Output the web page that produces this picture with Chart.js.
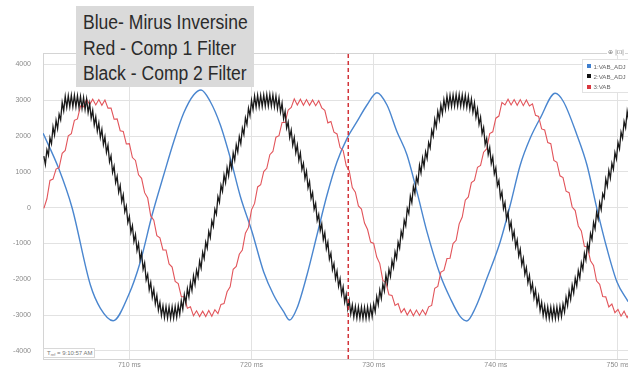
<!DOCTYPE html>
<html><head><meta charset="utf-8">
<script src="https://cdn.jsdelivr.net/npm/chart.js@4.4.1/dist/chart.umd.min.js"></script>
<style>
html,body{margin:0;padding:0;background:#fff;}
#wrap{position:relative;width:628px;height:369px;overflow:hidden;background:#fff;}
#c{position:absolute;left:0;top:0;}
#note{position:absolute;left:76px;top:6px;width:178px;height:81px;background:#dadada;}
#note div{position:absolute;left:6.7px;white-space:nowrap;font-family:'Liberation Sans Narrow','Arial Narrow','Liberation Sans',Arial,sans-serif;font-size:20px;line-height:20px;color:#2b2b2b;transform-origin:0 0;}
#legend{position:absolute;left:582px;top:59px;width:52px;height:34px;background:#fff;border:1px solid #e2e2e2;box-sizing:border-box;font-family:'Liberation Sans',Arial,sans-serif;font-size:6.2px;color:#666;}
#legend .row{position:absolute;left:4px;height:8px;line-height:8px;white-space:nowrap;}
#legend .sw{display:inline-block;width:4px;height:4px;margin-right:2.5px;vertical-align:0.5px;}
#tref{position:absolute;left:43px;top:348px;width:52px;height:10px;background:#fff;border:1px solid #d8d8d8;box-sizing:border-box;font-family:'Liberation Sans',Arial,sans-serif;font-size:6px;line-height:8px;color:#777;padding-left:3px;white-space:nowrap;}
#tref sub{font-size:4px;vertical-align:-1px;}
#icons{position:absolute;left:607px;top:48px;font-family:'DejaVu Sans',sans-serif;font-size:6px;color:#777;background:#fff;padding:0 1px;}
</style>
</head><body>
<div id="wrap">
<canvas id="c" width="628" height="369"></canvas>
<div id="note">
<div style="top:6.1px">Blue- Mirus Inversine</div>
<div style="top:32.1px">Red - Comp 1 Filter</div>
<div style="top:57.1px">Black - Comp 2 Filter</div>
</div>
<div id="icons">⊕ |⊡|</div>
<div id="legend"></div>
<div id="tref">T<sub>ref</sub> = 9:10:57 AM</div>
</div>
<script>
// ---- data ----
const seriesLabels = ['1:VAB_ADJ', '2:VAB_ADJ', '3:VAB'];
const yTickValues = [-4000, -3000, -2000, -1000, 0, 1000, 2000, 3000, 4000];
const xTickValues = [710, 720, 730, 740, 750];
const cursorTime = [727.92];

// Blue (1:VAB_ADJ) — time in ms, value
const blueTimes = [702.94,704.21,705.31,706.81,707.63,708.67,709.94,710.9,711.86,712.81,713.63,714.44,715.26,715.87,716.63,717.45,718.27,719.08,720.04,720.99,721.81,722.63,723.12,723.72,724.54,725.36,726.18,727.0,727.82,728.63,729.45,730.27,731.09,731.91,732.73,733.54,734.36,735.45,736.27,737.09,737.63,738.31,739.27,740.36,741.18,742.0,742.81,743.63,744.86,745.54,746.64,747.46,748.27,749.09,749.91,750.83];
const blueValues = [2078,1100,0,-2160,-2810,-3156,-2438,-1508,-204,913,1843,2636,3148,3287,2960,2310,1380,320,-670,-1788,-2438,-2905,-3137,-2810,-1880,-762,355,1285,1938,2402,2868,3212,2868,2123,1472,447,-670,-1880,-2530,-3044,-3164,-2810,-1972,-950,75,1193,1938,2497,3195,2960,2030,1193,-17,-1134,-2067,-2625];

// sample grid for black / red: every 0.25 ms from 703 ms
const sampleStart = 703, sampleStep = 0.25;

// Black (2:VAB_ADJ): ripple tips at the grid times, ripple valleys half a step later
const blackUpper = [
1440,1620,1950,2260,2440,2610,2940,3110,3130,3140,3140,3130,3110,3080,3040,2910,
2720,2540,2370,2190,1980,1750,1450,1160,880,620,360,50,-240,-500,-750,-1000,
-1260,-1540,-1860,-2090,-2280,-2450,-2640,-2740,-2760,-2770,-2770,-2760,-2720,-2600,-2430,-2260,
-2090,-1900,-1740,-1490,-1240,-960,-660,-370,-40,310,630,920,1120,1300,1530,1760,
1990,2220,2510,2780,3000,3120,3140,3140,3150,3160,3160,3150,3120,3060,2920,2690,
2390,2170,1960,1750,1530,1240,1020,730,420,120,-190,-450,-700,-960,-1270,-1560,
-1770,-1990,-2210,-2420,-2590,-2710,-2760,-2770,-2770,-2780,-2770,-2760,-2690,-2480,-2300,-2130,
-1880,-1720,-1480,-1230,-960,-660,-350,-20,330,590,850,1190,1390,1560,1820,2160,
2470,2690,2870,3020,3120,3140,3150,3160,3160,3150,3140,3110,3040,2930,2760,2530,
2240,1930,1680,1420,1110,760,440,140,-130,-400,-660,-900,-1160,-1410,-1670,-1890,
-2110,-2290,-2470,-2640,-2740,-2770,-2780,-2780,-2770,-2750,-2690,-2500,-2330,-2160,-1970,-1760,
-1540,-1270,-1020,-720,-410,-130,140,390,800,1040,1240,1540,1820,2110,2410,2690,
2800];
const blackLower = [
1210,1465,1785,2030,2205,2455,2705,2800,2815,2820,2815,2800,2775,2740,2655,2495,
2310,2135,1960,1765,1545,1280,985,700,430,170,-115,-415,-690,-945,-1195,-1450,
-1720,-2020,-2295,-2505,-2685,-2865,-3010,-3070,-3085,-3090,-3085,-3060,-2980,-2835,-2665,-2495,
-2315,-2140,-1935,-1685,-1420,-1130,-835,-525,-185,150,455,700,890,1095,1325,1555,
1785,2045,2325,2570,2740,2810,2820,2825,2835,2840,2835,2815,2770,2670,2485,2220,
1960,1745,1535,1320,1065,810,555,255,-50,-355,-640,-895,-1150,-1435,-1735,-1985,
-2200,-2420,-2635,-2825,-2970,-3055,-3085,-3090,-3095,-3095,-3085,-3045,-2905,-2710,-2535,-2325,
-2120,-1920,-1675,-1415,-1130,-825,-505,-165,140,400,700,970,1155,1370,1670,1995,
2260,2460,2625,2750,2810,2825,2835,2840,2835,2825,2805,2755,2665,2525,2325,2065,
1765,1485,1230,945,615,280,-30,-315,-585,-850,-1100,-1350,-1605,-1860,-2100,-2320,
-2520,-2700,-2875,-3010,-3075,-3095,-3100,-3095,-3080,-3040,-2915,-2735,-2565,-2385,-2185,-1970,
-1725,-1465,-1190,-885,-590,-315,-55,275,600,820,1070,1360,1645,1940,2230,2425];

// Red (3:VAB), one value per grid time
const redValues = [
-20,250,760,800,1080,1120,1520,1600,
2010,2070,2440,2480,2840,2820,3030,2880,
3030,2870,3020,2860,3010,2780,2780,2470,
2480,2150,2130,1780,1790,1400,1320,920,
820,420,270,-230,-350,-780,-840,-1180,
-1180,-1570,-1660,-2060,-2120,-2480,-2490,-2810,
-2770,-3020,-2880,-3040,-2890,-3040,-2870,-3030,
-2850,-2960,-2700,-2680,-2350,-2210,-1720,-1640,
-1300,-1180,-710,-550,-60,120,580,640,
1010,1100,1480,1570,1970,2010,2380,2380,
2730,2800,3040,2870,3030,2860,3020,2860,
3010,2850,2990,2790,2720,2370,2410,2110,
2060,1680,1600,1180,1030,560,435,50,
-40,-430,-610,-960,-1000,-1380,-1560,-2030,
-2090,-2430,-2450,-2730,-2680,-2930,-2820,-3000,
-2850,-3020,-2860,-3010,-2850,-2990,-2770,-2730,
-2250,-2200,-1800,-1750,-1420,-1410,-1000,-910,
-450,-260,210,300,700,760,1130,1180,
1550,1640,2070,2120,2500,2560,2940,2870,
3030,2870,3020,2860,3020,2850,3010,2840,
2900,2580,2550,2200,2170,1820,1790,1320,
1270,890,840,460,420,20,-80,-510,
-650,-1080,-1100,-1480,-1610,-2050,-2140,-2480,
-2490,-2770,-2690,-2930,-2840,-3030,-2890,-3070,
-2920];

// ---- build ----
const Y_MIN = -4226, Y_MAX = 4321, X_MIN = 702.93, X_MAX = 750.82;
const redPts = redValues.map((v, i) => ({ x: sampleStart + i * sampleStep, y: v }));
const blackPts = [];
blackUpper.forEach((v, i) => {
  blackPts.push({ x: sampleStart + i * sampleStep, y: v });
  if (i < blackLower.length) blackPts.push({ x: sampleStart + (i + 0.5) * sampleStep, y: blackLower[i] });
});
const bluePts = blueTimes.map((t, i) => ({ x: t, y: blueValues[i] }));
const cursorPts = [{ x: cursorTime[0], y: Y_MIN }, { x: cursorTime[0], y: Y_MAX }];

Chart.defaults.font.family = "'Liberation Sans', Arial, sans-serif";

const framePlugin = {
  id: 'frame',
  beforeDatasetsDraw(chart) {
    const { ctx, chartArea: a } = chart;
    ctx.save();
    ctx.strokeStyle = '#d4d4d4';
    ctx.lineWidth = 1;
    ctx.beginPath();
    ctx.moveTo(a.left, Math.round(a.top) + 0.5);
    ctx.lineTo(a.right, Math.round(a.top) + 0.5);
    ctx.stroke();
    ctx.restore();
  }
};

const chart = new Chart(document.getElementById('c'), {
  type: 'line',
  data: {
    datasets: [
      { label: seriesLabels[0], legendColor: '#3f7fce', data: bluePts, borderColor: '#4a86cf', borderWidth: 1.4, cubicInterpolationMode: 'monotone', order: 3 },
      { label: seriesLabels[1], legendColor: '#111111', data: blackPts, borderColor: '#1a1a1a', borderWidth: 1.3, tension: 0, order: 1 },
      { label: seriesLabels[2], legendColor: '#d9363e', data: redPts, borderColor: '#e2545a', borderWidth: 1.1, tension: 0, order: 2 },
      { label: 'cursor', data: cursorPts, borderColor: '#d2343a', borderWidth: 1.5, borderDash: [4, 3], order: 0 }
    ]
  },
  options: {
    responsive: false,
    animation: false,
    devicePixelRatio: 1,
    layout: { padding: { top: 53, right: 0, left: 0, bottom: 0 } },
    elements: { point: { radius: 0, hoverRadius: 0 }, line: { borderCapStyle: 'butt', borderJoinStyle: 'miter' } },
    plugins: { legend: { display: false }, tooltip: { enabled: false } },
    scales: {
      x: {
        type: 'linear', min: X_MIN, max: X_MAX,
        afterBuildTicks: s => { s.ticks = xTickValues.map(v => ({ value: v })); },
        afterFit: s => { s.height = 10; s.paddingLeft = 0; s.paddingRight = 0; },
        ticks: { callback: v => v + ' ms', font: { size: 7 }, color: '#8a8a8a', padding: 2, maxRotation: 0, autoSkip: false },
        grid: { color: '#e2e2e2', drawTicks: false, lineWidth: 1 },
        border: { display: true, color: '#d4d4d4' }
      },
      y: {
        type: 'linear', min: Y_MIN, max: Y_MAX,
        afterBuildTicks: s => { s.ticks = yTickValues.map(v => ({ value: v })); },
        afterFit: s => { s.width = 43; s.paddingTop = 0; s.paddingBottom = 0; },
        ticks: { callback: v => String(v), font: { size: 7 }, color: '#8a8a8a', padding: 12, autoSkip: false },
        grid: { color: '#e2e2e2', drawTicks: false, lineWidth: 1 },
        border: { display: true, color: '#d4d4d4' }
      }
    }
  },
  plugins: [framePlugin]
});

// legend built from the datasets
const leg = document.getElementById('legend');
chart.data.datasets.filter(d => d.label !== 'cursor').forEach((d, i) => {
  const row = document.createElement('div');
  row.className = 'row';
  row.style.top = (2.5 + i * 10.3) + 'px';
  row.innerHTML = '<span class="sw" style="background:' + d.legendColor + '"></span>' + d.label;
  leg.appendChild(row);
});

// fit annotation text width to the reference
const lines = document.querySelectorAll('#note div');
const w0 = lines[0].getBoundingClientRect().width;
const sx = 164.7 / w0;
lines.forEach(l => { l.style.transform = 'scaleX(' + sx + ')'; });
</script>
</body></html>
